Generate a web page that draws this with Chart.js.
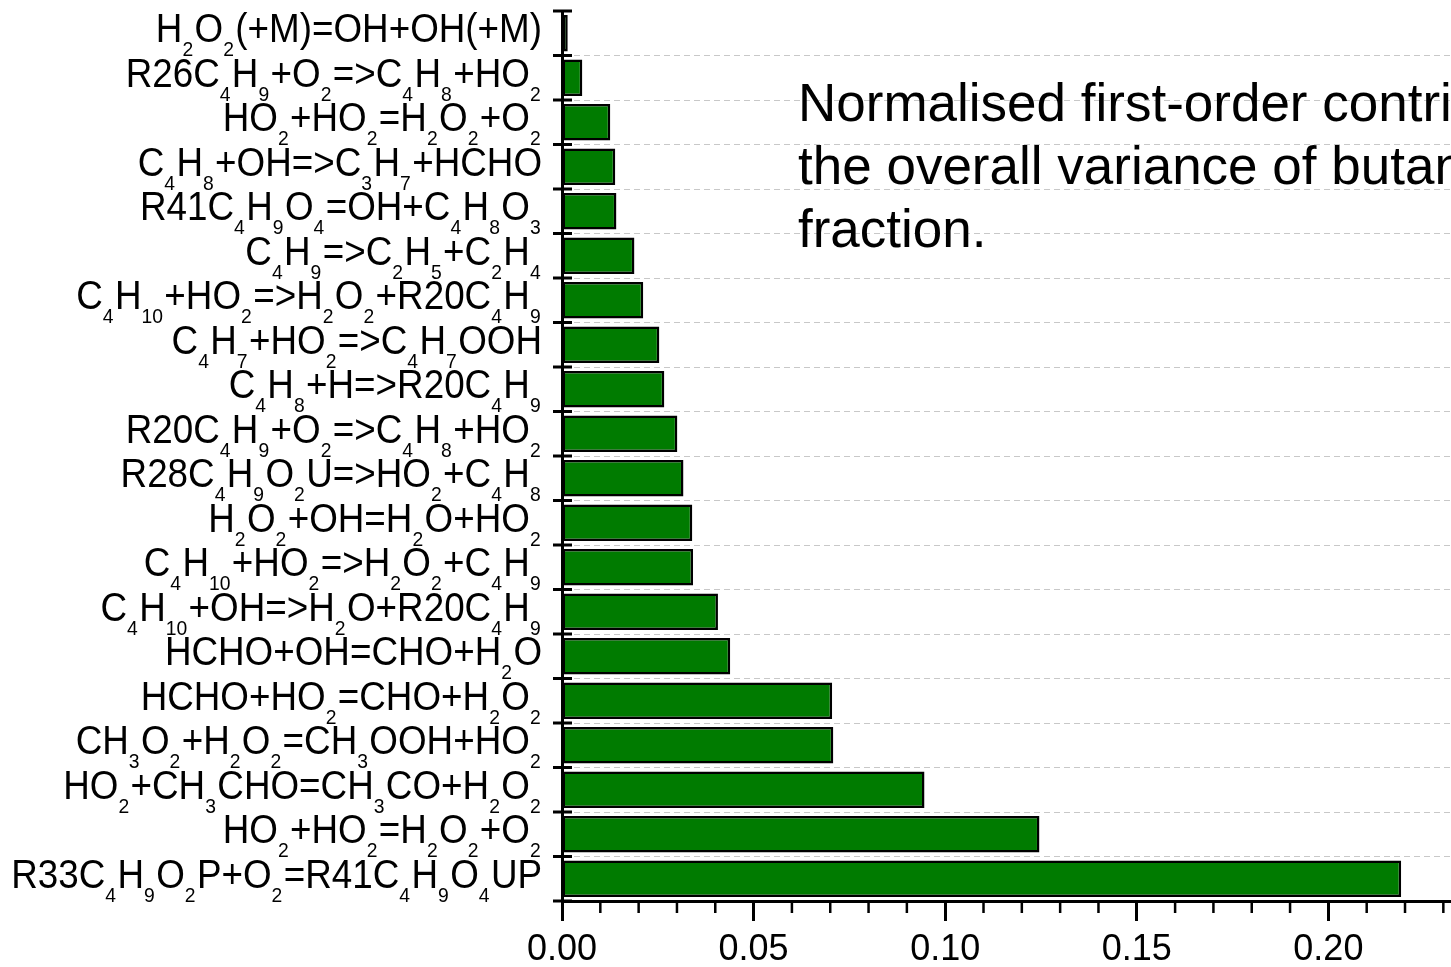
<!DOCTYPE html>
<html>
<head>
<meta charset="utf-8">
<title>First-order contributions to butane variance</title>
<script src="https://cdn.jsdelivr.net/npm/chart.js@4.4.1/dist/chart.umd.min.js"></script>
<style>
  html, body { margin: 0; padding: 0; background: #fff; }
  #wrap { position: relative; width: 1451px; height: 967px; }
</style>
</head>
<body>
<div id="wrap"><canvas id="sensChart"></canvas></div>
<script>
// reactions, top to bottom; "_n" marks a subscript
const reactions = [
    'H_2O_2(+M)=OH+OH(+M)',
    'R26C_4H_9+O_2=>C_4H_8+HO_2',
    'HO_2+HO_2=H_2O_2+O_2',
    'C_4H_8+OH=>C_3H_7+HCHO',
    'R41C_4H_9O_4=OH+C_4H_8O_3',
    'C_4H_9=>C_2H_5+C_2H_4',
    'C_4H_10+HO_2=>H_2O_2+R20C_4H_9',
    'C_4H_7+HO_2=>C_4H_7OOH',
    'C_4H_8+H=>R20C_4H_9',
    'R20C_4H_9+O_2=>C_4H_8+HO_2',
    'R28C_4H_9O_2U=>HO_2+C_4H_8',
    'H_2O_2+OH=H_2O+HO_2',
    'C_4H_10+HO_2=>H_2O_2+C_4H_9',
    'C_4H_10+OH=>H_2O+R20C_4H_9',
    'HCHO+OH=CHO+H_2O',
    'HCHO+HO_2=CHO+H_2O_2',
    'CH_3O_2+H_2O_2=CH_3OOH+HO_2',
    'HO_2+CH_3CHO=CH_3CO+H_2O_2',
    'HO_2+HO_2=H_2O_2+O_2',
    'R33C_4H_9O_2P+O_2=R41C_4H_9O_4UP'
];

// normalised first-order sensitivity index
const firstOrderIndex = [
    0.0015, 0.0053, 0.0126, 0.0139, 0.0142,
    0.0189, 0.0212, 0.0254, 0.0267, 0.0301,
    0.0317, 0.0340, 0.0342, 0.0407, 0.0439,
    0.0705, 0.0708, 0.0946, 0.1246, 0.2190
];

const noteLines = [
    'Normalised first-order contributions to',
    'the overall variance of butane mole',
    'fraction.'
];

const xMin = 0;
const xMax = 0.232;
const xStep = 0.01;
const xMajorStep = 0.05;

const FONT = "'Liberation Sans', Arial, sans-serif";
const MAIN_SIZE = 40;
const SUB_SIZE = 21;
const SUB_GAP = 1.5;
const LABEL_SQUEEZE = 0.92;

const isMajor = v => Math.round(v * 100) % Math.round(xMajorStep * 100) === 0;

// label with subscripts, right aligned at `right`, centred on `mid`
function drawFormula(ctx, text, right, mid) {
    const parts = text.split(/_(\d+)/);
    const advance = (p, sub) => {
        ctx.font = (sub ? SUB_SIZE : MAIN_SIZE) + 'px ' + FONT;
        return ctx.measureText(p).width + (sub ? SUB_GAP : 0);
    };
    let total = 0;
    parts.forEach((p, i) => { total += advance(p, i % 2 === 1); });
    ctx.save();
    ctx.translate(right, mid);
    ctx.scale(LABEL_SQUEEZE, 1);
    let x = -total;
    parts.forEach((p, i) => {
        const sub = i % 2 === 1;
        const w = advance(p, sub);
        ctx.fillText(p, x, sub ? 23 : 9);
        x += w;
    });
    ctx.restore();
}

const axisDecor = {
    id: 'axisDecor',
    afterDraw(chart) {
        const { ctx, scales: { x, y } } = chart;
        ctx.save();
        ctx.strokeStyle = '#000';
        ctx.fillStyle = '#000';

        // minor ticks on the value axis
        ctx.lineWidth = 2.5;
        x.ticks.forEach(t => {
            if (isMajor(t.value)) return;
            const px = x.getPixelForValue(t.value);
            ctx.beginPath();
            ctx.moveTo(px, x.top);
            ctx.lineTo(px, x.top + 12);
            ctx.stroke();
        });

        // category boundary ticks crossing the y axis
        ctx.lineWidth = 3;
        for (let k = 0; k <= reactions.length; k++) {
            const py = y.getPixelForValue(k - 0.5);
            ctx.beginPath();
            ctx.moveTo(x.left - 9, py);
            ctx.lineTo(x.left + 10, py);
            ctx.stroke();
        }

        // reaction labels
        ctx.textAlign = 'left';
        ctx.textBaseline = 'alphabetic';
        reactions.forEach((r, i) => {
            drawFormula(ctx, r, x.left - 20, y.getPixelForValue(i));
        });

        // caption
        ctx.font = '53px ' + FONT;
        noteLines.forEach((line, i) => {
            ctx.fillText(line, 798, 121 + i * 63);
        });
        ctx.restore();
    }
};

new Chart(document.getElementById('sensChart'), {
    type: 'bar',
    data: {
        labels: reactions,
        datasets: [{
            data: firstOrderIndex,
            backgroundColor: '#007b00',
            borderColor: '#000',
            borderWidth: 2.5,
            borderSkipped: false,
            categoryPercentage: 1,
            barPercentage: 0.82
        }]
    },
    options: {
        indexAxis: 'y',
        responsive: true,
        maintainAspectRatio: false,
        animation: false,
        layout: { padding: { top: 11, right: 0, left: 0, bottom: 0 } },
        plugins: {
            legend: { display: false },
            tooltip: { enabled: false }
        },
        scales: {
            x: {
                min: xMin,
                max: xMax,
                border: { color: '#000', width: 3, z: 1 },
                grid: {
                    drawOnChartArea: false,
                    drawTicks: true,
                    tickLength: 20,
                    tickWidth: 3,
                    tickColor: c => isMajor(c.tick.value) ? '#000' : 'rgba(0,0,0,0)'
                },
                ticks: {
                    stepSize: xStep,
                    includeBounds: false,
                    autoSkip: false,
                    maxRotation: 0,
                    padding: 7,
                    color: '#000',
                    font: { family: FONT, size: 36 },
                    callback: v => isMajor(v) ? v.toFixed(2) : ''
                },
                afterFit: s => { s.height = 66; }
            },
            y: {
                // in v4 the border dash is what dashes the grid lines
                border: { color: '#000', width: 3, z: 1, dash: [6, 4] },
                grid: {
                    drawTicks: false,
                    color: c => c.index === 0 ? 'rgba(0,0,0,0)' : '#c8c8c8',
                    lineWidth: 1
                },
                ticks: { display: false },
                afterFit: s => { s.width = 562; }
            }
        }
    },
    plugins: [axisDecor]
});
</script>
</body>
</html>
